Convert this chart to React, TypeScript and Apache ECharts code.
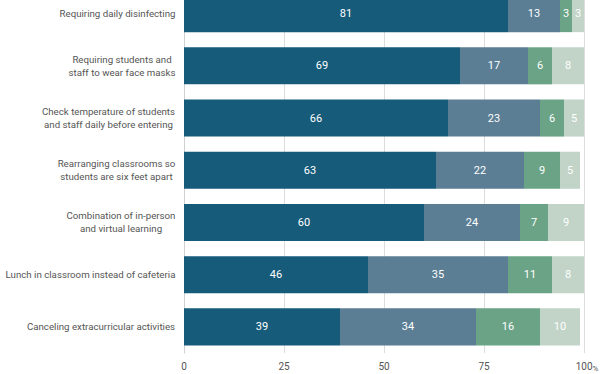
import React, { useEffect, useRef } from "react";
import * as echarts from "echarts";

const categories = [
  "Requiring daily disinfecting",
  "Requiring students and\nstaff to wear face masks",
  "Check temperature of students\nand staff daily before entering",
  "Rearranging classrooms so\nstudents are six feet apart",
  "Combination of in-person\nand virtual learning",
  "Lunch in classroom instead of cafeteria",
  "Canceling extracurricular activities",
];
const seriesA = [81, 69, 66, 63, 60, 46, 39];
const seriesB = [13, 17, 23, 22, 24, 35, 34];
const seriesC = [3, 6, 6, 9, 7, 11, 16];
const seriesD = [3, 8, 5, 5, 9, 8, 10];
const colors = ["#175b7b", "#5b7e95", "#6aa386", "#c1d4c7"];
const FONT = "Roboto, 'Noto Sans', sans-serif";
const CAT_FS = 9.7;

export default function App() {
  const ref = useRef<HTMLDivElement>(null);
  useEffect(() => {
    if (!ref.current) return;
    const chart = echarts.init(ref.current, null, { renderer: "svg" });
    const canvas = document.createElement("canvas");
    const ctx = canvas.getContext("2d")!;
    ctx.font = `${CAT_FS}px Roboto`;
    const rich: Record<string, any> = {};
    categories.forEach((c, i) => {
      const w = Math.max(...c.split("\n").map((l) => ctx.measureText(l).width));
      rich["c" + i] = {
        width: Math.ceil(w) + 1,
        align: "center",
        fontSize: CAT_FS,
        lineHeight: 13,
        color: "#555",
        fontFamily: FONT,
      };
    });
    const mk = (name: string, data: number[], color: string) => ({
      name,
      type: "bar",
      stack: "total",
      data,
      barCategoryGap: "29%",
      itemStyle: { color },
      label: {
        show: true,
        position: "inside",
        color: "#fff",
        fontSize: 11,
        fontFamily: FONT,
      },
    });
    chart.setOption({
      animation: false,
      grid: {
        left: 184,
        right: 28,
        top: -12.5,
        bottom: 21,
        containLabel: false,
        outerBoundsMode: "none",
      },
      xAxis: {
        type: "value",
        min: 0,
        max: 100,
        interval: 25,
        axisLine: { show: false },
        axisTick: { show: false },
        splitLine: { show: true, lineStyle: { color: "#dcdcdc", width: 1 } },
        axisLabel: {
          color: "#555",
          fontSize: 10,
          fontFamily: FONT,
          margin: 8,
          formatter: (v: number) => (v === 100 ? "{s|}100{p|%}" : String(v)),
          rich: {
            s: { width: 6 },
            p: { fontSize: 8, color: "#555", fontFamily: FONT, padding: [3, 0, 0, 0] },
          },
        },
      },
      yAxis: {
        type: "category",
        data: categories,
        inverse: true,
        axisLine: { show: true, lineStyle: { color: "#d0d0d0", width: 1 } },
        axisTick: { show: false },
        axisLabel: {
          margin: 8,
          align: "right",
          formatter: (v: string) => {
            const i = categories.indexOf(v);
            return v
              .split("\n")
              .map((l) => `{c${i}|${l}}`)
              .join("\n");
          },
          rich,
        },
      },
      series: [
        mk("A", seriesA, colors[0]),
        mk("B", seriesB, colors[1]),
        mk("C", seriesC, colors[2]),
        mk("D", seriesD, colors[3]),
      ],
    });
    return () => chart.dispose();
  }, []);
  return <div ref={ref} style={{ width: 612, height: 374, position: "absolute", left: 0, top: 0 }} />;
}
